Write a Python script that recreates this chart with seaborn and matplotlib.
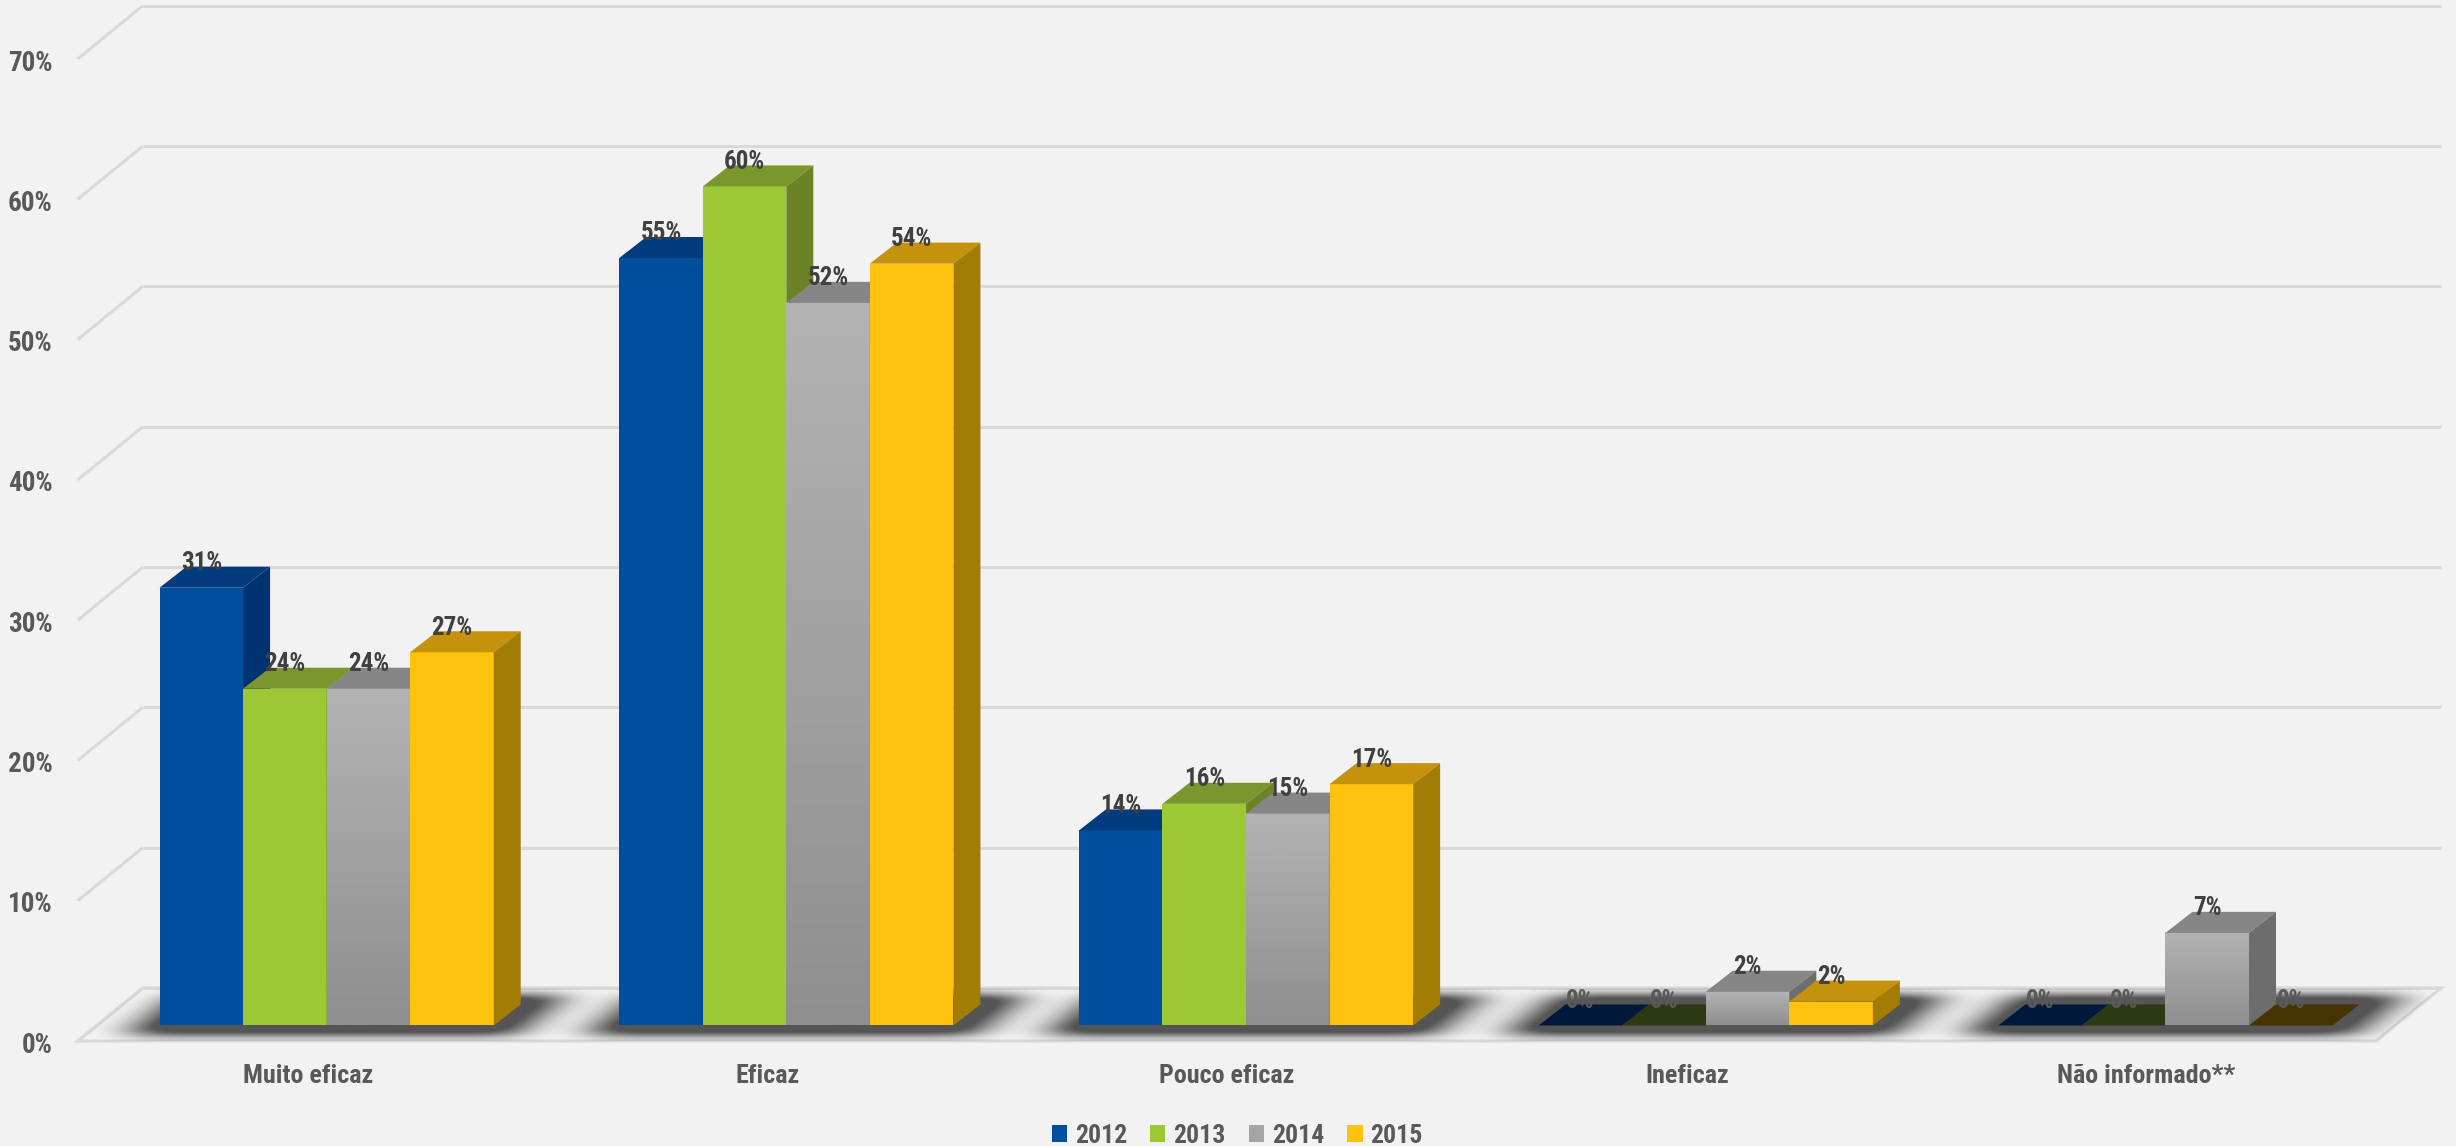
import numpy as np
import pandas as pd
import seaborn as sns
import matplotlib
matplotlib.use("Agg")
import matplotlib.pyplot as plt
from matplotlib import font_manager as fm
from matplotlib.font_manager import FontProperties
from matplotlib.patches import Polygon, Patch

# ---------------------------------------------------------------- data
categories = ["Muito eficaz", "Eficaz", "Pouco eficaz", "Ineficaz", "Não informado**"]
years = ["2012", "2013", "2014", "2015"]
share_2012 = [0.312, 0.547, 0.139, 0.0, 0.0]
share_2013 = [0.240, 0.598, 0.158, 0.0, 0.0]
share_2014 = [0.240, 0.515, 0.151, 0.024, 0.066]
share_2015 = [0.266, 0.543, 0.172, 0.017, 0.0]
y_ticks = [0, 10, 20, 30, 40, 50, 60, 70]

# ---------------------------------------------------------------- style
front_colors = ["#004f9f", "#9dc836", "#a3a3a3", "#ffc20e"]
top_colors = ["#033c7e", "#7a962c", "#868686", "#c4930b"]
side_colors = ["#003370", "#6b8325", "#6d6d6d", "#a37c06"]
flat_colors = ["#00193a", "#2c3a12", "#868686", "#473300"]   # empty bars seen from above
gray_top, gray_bottom = "#b3b3b3", "#8f8f8f"
BG = "#f2f2f2"
GRID = "#d9d9d9"
TICK = "#595959"
LABEL = "#404040"

sns.set_theme(style="white")
names = {f.name for f in fm.fontManager.ttflist}
if "Liberation Sans Narrow" in names:
    font = dict(family="Liberation Sans Narrow", weight="bold")
elif "Roboto Condensed" in names:
    font = dict(family="Roboto Condensed", weight="bold")
else:
    font = dict(family="DejaVu Sans", stretch="condensed", weight="bold")
plt.rcParams["font.family"] = [font["family"], "DejaVu Sans"]

# oblique projection used for the pseudo-3D look (data units: category, percent)
BAR_DX, BAR_DY = 0.0587, 1.50        # depth of a column
FLOOR_FX, FLOOR_FY = -0.0413, -1.105  # front edge of the floor
WALL_X, WALL_Y = 0.100, 2.673         # back wall
X0, X1 = -0.5, len(categories) - 0.5
GROUP_WIDTH = 0.727

wide = pd.DataFrame({"2012": share_2012, "2013": share_2013,
                     "2014": share_2014, "2015": share_2015}, index=categories)
df = (wide.reset_index(names="categoria")
          .melt(id_vars="categoria", var_name="ano", value_name="share"))
df["pct"] = df["share"] * 100

fig = plt.figure(figsize=(24.56, 11.46), dpi=100, facecolor=BG)
ax = fig.add_axes([0, 0, 1, 1])
ax.set_facecolor(BG)

# ---------------------------------------------------------------- floor, walls, grid
floor = Polygon([(X0 + FLOOR_FX, FLOOR_FY), (X1 + FLOOR_FX, FLOOR_FY),
                 (X1 + WALL_X, WALL_Y), (X0 + WALL_X, WALL_Y)],
                closed=True, facecolor="#f6f6f6", edgecolor=GRID, lw=2.2, zorder=1)
ax.add_patch(floor)

for v in y_ticks:
    ax.plot([X0 + WALL_X, X1 + WALL_X], [v + WALL_Y] * 2, color=GRID, lw=2.2,
            zorder=2, solid_capstyle="butt")
    ax.plot([X0 + FLOOR_FX, X0 + WALL_X], [v + FLOOR_FY, v + WALL_Y], color=GRID,
            lw=2.2, zorder=2, solid_capstyle="butt")
    ax.text(X0 + FLOOR_FX - 0.055, v + FLOOR_FY - 0.3, f"{v}%", ha="right", va="center",
            color=TICK, fontsize=19.5, **font)

# ---------------------------------------------------------------- soft shadow on the floor
gx = np.linspace(-0.75, 4.75, 2530)
gy = np.linspace(-3.0, 4.5, 110)
XX, YY = np.meshgrid(gx, gy)
tt = YY / BAR_DY
cc = XX - tt * BAR_DX
mask = np.zeros_like(XX)
for i in range(len(categories)):
    sel = ((cc >= i - GROUP_WIDTH / 2 - 0.045) & (cc <= i + GROUP_WIDTH / 2 + 0.07)
           & (tt >= -0.45) & (tt <= 1.45))
    mask[sel] = 1.0


def blur(a, sigma, axis):
    r = int(3 * sigma)
    k = np.exp(-0.5 * (np.arange(-r, r + 1) / sigma) ** 2)
    k /= k.sum()
    return np.apply_along_axis(lambda m: np.convolve(m, k, mode="same"), axis, a)


soft = blur(blur(mask, 22, 1), 5, 0)
shade = np.zeros(XX.shape + (4,))
shade[..., :3] = 0.22
shade[..., 3] = np.clip(soft * 1.35, 0, 1) * 0.85
im = ax.imshow(shade, extent=[gx[0], gx[-1], gy[0], gy[-1]], origin="lower",
               aspect="auto", interpolation="bilinear", zorder=3)
im.set_clip_path(floor)

# ---------------------------------------------------------------- columns
sns.barplot(data=df, x="categoria", y="pct", hue="ano", order=categories,
            hue_order=years, palette=front_colors, width=GROUP_WIDTH, gap=0,
            saturation=1, errorbar=None, legend=False, linewidth=0, ax=ax)

grad = np.linspace(np.array(matplotlib.colors.to_rgb(gray_top)),
                   np.array(matplotlib.colors.to_rgb(gray_bottom)), 256)[:, None, :]

for k, cont in enumerate(ax.containers):
    for i, bar in enumerate(cont):
        x0, w, h = bar.get_x(), bar.get_width(), bar.get_height()
        z = 10 + 4 * k
        bar.set_zorder(z)
        if h <= 0:
            bar.set_visible(False)
            ax.add_patch(Polygon([(x0, 0), (x0 + w, 0), (x0 + w + BAR_DX, BAR_DY),
                                  (x0 + BAR_DX, BAR_DY)], closed=True,
                                 facecolor=flat_colors[k], lw=0, zorder=z + 2))
        else:
            if k == 2:
                ax.imshow(grad, extent=[x0, x0 + w, 0, h], origin="upper",
                          aspect="auto", interpolation="bilinear", zorder=z + 1)
            ax.add_patch(Polygon([(x0, h), (x0 + w, h), (x0 + w + BAR_DX, h + BAR_DY),
                                  (x0 + BAR_DX, h + BAR_DY)], closed=True,
                                 facecolor=top_colors[k], lw=0, zorder=z + 2))
            ax.add_patch(Polygon([(x0 + w, 0), (x0 + w, h), (x0 + w + BAR_DX, h + BAR_DY),
                                  (x0 + w + BAR_DX, BAR_DY)], closed=True,
                                 facecolor=side_colors[k], lw=0, zorder=z + 3))
        ax.text(x0 + w / 2, h + 1.75, f"{h:.0f}%", ha="center", va="center",
                color=LABEL if h > 0 else TICK, fontsize=18, zorder=60, **font)

# ---------------------------------------------------------------- category labels
for i, name in enumerate(categories):
    ax.text(i + FLOOR_FX, -3.6, name, ha="center", va="center", color=TICK,
            fontsize=18.8, **font)

ax.set_xlim(-0.7105, 4.632)
ax.set_ylim(-8.589, 73.09)
ax.axis("off")

legend_colors = [front_colors[0], front_colors[1], "#a5a5a5", front_colors[3]]
handles = [Patch(facecolor=c, edgecolor="none") for c in legend_colors]
fig.legend(handles, years, loc="center", bbox_to_anchor=(0.5037, 0.009), ncol=4,
           frameon=False, handlelength=0.6, handleheight=0.6, handletextpad=0.3,
           columnspacing=0.9, labelcolor=TICK,
           prop=FontProperties(size=18.5, **font))

fig.savefig("out.png", dpi=100, facecolor=BG)
